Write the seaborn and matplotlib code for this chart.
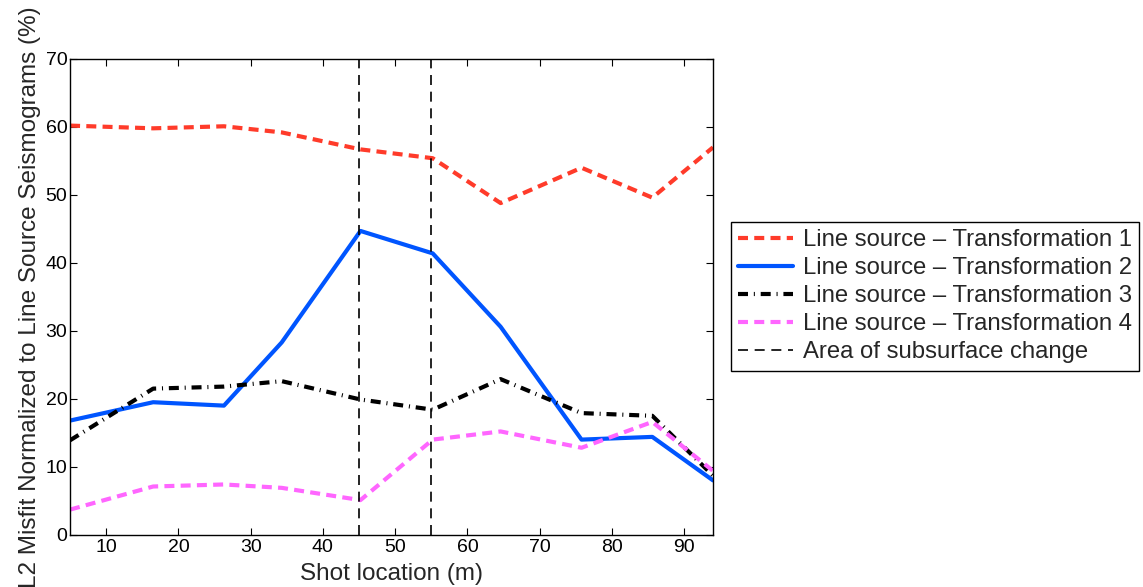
import matplotlib
matplotlib.use('Agg')
import matplotlib.pyplot as plt
import seaborn as sns
import pandas as pd

# shot locations (m) and misfit values (%)
shots = [5, 16.5, 26.3, 34.3, 45.2, 55.2, 64.6, 75.8, 85.6, 94]
trans1 = [60.2, 59.8, 60.1, 59.2, 56.7, 55.4, 48.8, 54.0, 49.6, 57.0]
trans2 = [16.8, 19.5, 19.0, 28.3, 44.7, 41.4, 30.6, 14.0, 14.4, 8.0]
trans3 = [13.9, 21.5, 21.8, 22.6, 19.9, 18.4, 22.9, 17.9, 17.5, 8.7]
trans4 = [3.7, 7.1, 7.4, 6.9, 5.1, 14.0, 15.2, 12.8, 16.6, 9.4]
change_area = [45, 55]

labels = ['Line source \u2013 Transformation 1', 'Line source \u2013 Transformation 2',
          'Line source \u2013 Transformation 3', 'Line source \u2013 Transformation 4']

df = pd.DataFrame({'shot': shots, 't1': trans1, 't2': trans2, 't3': trans3, 't4': trans4})

sns.set_style('ticks')
plt.rcParams['font.family'] = ['Liberation Sans', 'DejaVu Sans']

fig = plt.figure(figsize=(11.43, 5.87), dpi=100)
ax = fig.add_axes([0.0613, 0.089, 0.5625, 0.8105])

lw = 3.0
styles = [
    ('t1', '#ff3b2a', (0, (2.4, 1.5))),
    ('t2', '#0055ff', '-'),
    ('t3', '#000000', (0, (2.4, 1.4, 0.25, 1.4))),
    ('t4', '#ff66ff', (0, (2.4, 1.5))),
]
for (col, color, ls), lab in zip(styles, labels):
    sns.lineplot(data=df, x='shot', y=col, ax=ax, color=color, linewidth=lw,
                 linestyle=ls, label=lab, estimator=None, sort=False)

for i, xv in enumerate(change_area):
    ax.axvline(xv, color='black', linewidth=1.2, linestyle=(0, (6, 4)),
               label='Area of subsurface change' if i == 0 else None)

ax.set_xlim(5, 94)
ax.set_ylim(0, 70)
ax.set_xticks(range(10, 91, 10))
ax.set_yticks(range(0, 71, 10))
ax.tick_params(direction='in', length=5, width=0.8, labelsize=14, top=True, right=True,
               colors='black', pad=3)
ax.tick_params(axis='y', pad=2)
for sp in ax.spines.values():
    sp.set_visible(True)
    sp.set_linewidth(1.0)
    sp.set_color('black')

ax.set_xlabel('Shot location (m)', fontsize=17.5, labelpad=5)
ax.set_ylabel('L2 Misfit Normalized to Line Source Seismograms (%)', fontsize=17.5, labelpad=3)

handles, labs = ax.get_legend_handles_labels()
ax.legend(handles, labs, loc='center left', bbox_to_anchor=(0.6395, 0.495),
          bbox_transform=fig.transFigure, fontsize=17.2, frameon=True, fancybox=False,
          edgecolor='black', framealpha=1, labelspacing=0.25, handlelength=2.3,
          handletextpad=0.4, borderpad=0.3, borderaxespad=0)
ax.get_legend().get_frame().set_linewidth(1.0)

fig.savefig('out.png', dpi=100)
